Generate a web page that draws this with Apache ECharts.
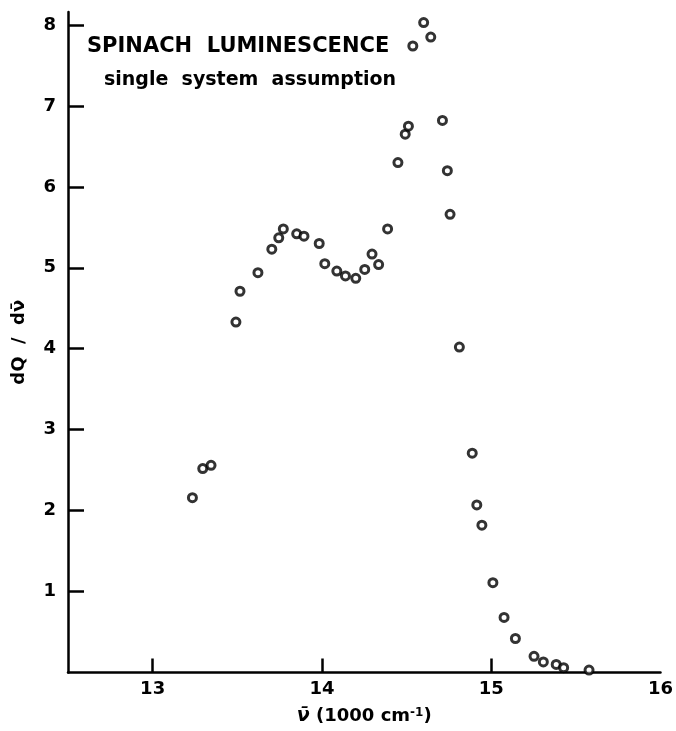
<!DOCTYPE html>
<html>
<head>
<meta charset="utf-8">
<script src="https://cdn.jsdelivr.net/npm/echarts@6/dist/echarts.min.js"></script>
<style>
  html, body { margin: 0; padding: 0; background: #fff; }
  #chart { width: 676px; height: 731px; }
</style>
</head>
<body>
<div id="chart"></div>
<script>
// wavenumber, 1000 cm-1
var waveNumber = [13.235, 13.296, 13.345, 13.492, 13.516, 13.622, 13.704, 13.745, 13.772, 13.851,
  13.894, 13.984, 14.017, 14.088, 14.139, 14.200, 14.253, 14.296, 14.335, 14.388,
  14.449, 14.492, 14.511, 14.537, 14.601, 14.643, 14.712, 14.741, 14.757, 14.812,
  14.888, 14.915, 14.945, 15.010, 15.076, 15.143, 15.253, 15.308, 15.384, 15.428, 15.578];
// dQ / dv
var dQdv = [2.16, 2.52, 2.56, 4.33, 4.71, 4.94, 5.23, 5.37, 5.48, 5.42,
  5.39, 5.30, 5.05, 4.96, 4.90, 4.87, 4.98, 5.17, 5.04, 5.48,
  6.30, 6.65, 6.75, 7.74, 8.03, 7.85, 6.82, 6.20, 5.66, 4.02,
  2.71, 2.07, 1.82, 1.11, 0.68, 0.42, 0.20, 0.13, 0.10, 0.06, 0.03];
var xTicks = [13, 14, 15];
var xLabels = [13, 14, 15, 16];
var yTicks = [1, 2, 3, 4, 5, 6, 7, 8];

var chart = echarts.init(document.getElementById('chart'));
var fontFam = 'DejaVu Sans';
var ink = '#000';

chart.setOption({
  backgroundColor: '#fff',
  animation: false,
  graphic: [
    {
      type: 'text', left: 87, top: 36,
      style: { text: 'SPINACH  LUMINESCENCE', font: 'bold 21px "DejaVu Sans"', fill: ink }
    },
    {
      type: 'text', left: 104, top: 71,
      style: { text: 'single  system  assumption', font: 'bold 19px "DejaVu Sans"', fill: ink }
    }
  ],
  grid: { left: 68, right: 13, top: 12, bottom: 48 },
  xAxis: {
    type: 'value',
    min: 12.5,
    max: 16,
    name: '{nu|ν̄} (1000 cm{sup|-1})',
    nameLocation: 'middle',
    nameGap: 34,
    nameTextStyle: {
      fontFamily: fontFam, fontSize: 18, fontWeight: 'bold', color: ink,
      rich: {
        nu: { fontFamily: fontFam, fontSize: 19, fontStyle: 'italic', fontWeight: 'bold', color: ink },
        sup: { fontFamily: fontFam, fontSize: 12, fontWeight: 'bold', verticalAlign: 'top', padding: [0, 0, 8, 0], color: ink }
      }
    },
    axisLine: { lineStyle: { color: ink, width: 2.5 } },
    axisTick: { inside: true, length: 14, customValues: xTicks, lineStyle: { color: ink, width: 2.5 } },
    axisLabel: { customValues: xLabels, fontFamily: fontFam, fontSize: 18, fontWeight: 'bold', color: ink, margin: 8 },
    splitLine: { show: false }
  },
  yAxis: {
    type: 'value',
    min: 0,
    max: 8.16,
    name: 'dQ  /  dν̄',
    nameLocation: 'middle',
    nameGap: 40,
    nameTextStyle: { fontFamily: fontFam, fontSize: 18, fontWeight: 'bold', color: ink, padding: [0, 0, 0, 0] },
    axisLine: { lineStyle: { color: ink, width: 2.5 } },
    axisTick: { inside: true, length: 16, customValues: yTicks, lineStyle: { color: ink, width: 2.5 } },
    axisLabel: { customValues: yTicks, fontFamily: fontFam, fontSize: 18, fontWeight: 'bold', color: ink, margin: 12 },
    splitLine: { show: false }
  },
  series: [{
    type: 'scatter',
    data: waveNumber.map(function (x, i) { return [x, dQdv[i]]; }),
    symbol: 'circle',
    symbolSize: 8,
    itemStyle: { color: '#fff', borderColor: ink, borderWidth: 3 }
  }]
});
</script>
</body>
</html>
